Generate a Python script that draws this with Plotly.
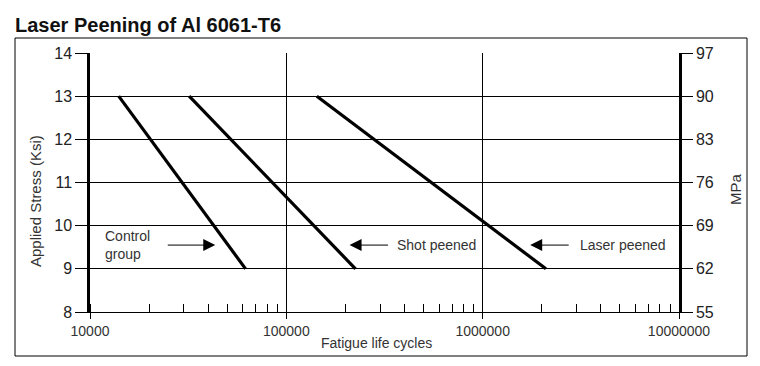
import plotly.graph_objects as go

# ---- data ----
stress_ksi = [13, 9]
control_cycles = [14000, 62000]
shot_cycles = [32000, 225000]
laser_cycles = [143000, 2100000]

y_ticks = [8, 9, 10, 11, 12, 13, 14]
mpa_labels = ["55", "62", "69", "76", "83", "90", "97"]
x_ticks = [1e4, 1e5, 1e6, 1e7]
x_labels = ["10000", "100000", "1000000", "10000000"]

FONT = "Liberation Sans, Arial, sans-serif"
TXT = "#333333"

# page body has an 8px margin; figure is sized to fit the 760x366 window
W, H = 752, 358
L, R, T, B = 82, 81, 45, 54
PW, PH = W - L - R, H - T - B


def px(xp):  # window x pixel -> paper x
    return (xp - 8 - L) / PW


def py(yp):  # window y pixel -> paper y
    return (H - B - (yp - 8)) / PH


fig = go.Figure()
for xs in (control_cycles, shot_cycles, laser_cycles):
    fig.add_trace(go.Scatter(x=xs, y=stress_ksi, mode="lines",
                             line=dict(color="black", width=3.2),
                             showlegend=False, hoverinfo="skip"))
# invisible trace to activate secondary axis
fig.add_trace(go.Scatter(x=[x_ticks[0]], y=[y_ticks[0]], yaxis="y2", mode="markers",
                         marker=dict(opacity=0), showlegend=False, hoverinfo="skip"))

fig.update_layout(
    width=W, height=H,
    margin=dict(l=L, r=R, t=T, b=B, autoexpand=False),
    paper_bgcolor="white", plot_bgcolor="white",
    font=dict(family=FONT, color=TXT),
    title=dict(text="<b>Laser Peening of Al 6061-T6</b>",
               font=dict(family="Liberation Sans Narrow, Arial Narrow, Liberation Sans, sans-serif",
                         size=20, color="#111111"),
               x=(15 - 8) / W, xanchor="left", xref="container",
               y=1 - (25 - 8) / H, yanchor="middle", yref="container",
               pad=dict(l=0, r=0, t=0, b=0)),
    xaxis=dict(type="log", range=[4, 7], tickvals=x_ticks, ticktext=x_labels,
               tickfont=dict(size=14, color=TXT), automargin=False,
               showgrid=True, gridcolor="black", gridwidth=1,
               ticks="outside", ticklen=6, tickcolor="black",
               showline=True, linecolor="black", linewidth=1,
               minor=dict(ticks="inside", ticklen=8, tickcolor="black", dtick="D1",
                          showgrid=False),
               zeroline=False),
    yaxis=dict(range=[8, 14], tickvals=y_ticks, ticktext=[str(v) for v in y_ticks],
               tickfont=dict(size=16, color="#222222"), automargin=False,
               showgrid=True, gridcolor="black", gridwidth=1,
               ticks="outside", ticklen=12, tickcolor="black", ticklabelstandoff=0,
               showline=True, linecolor="black", linewidth=2.5, mirror=False,
               zeroline=False),
    yaxis2=dict(range=[8, 14], overlaying="y", side="right",
                tickvals=y_ticks, ticktext=mpa_labels, automargin=False,
                tickfont=dict(size=16, color="#222222"), ticklabelstandoff=0,
                showgrid=False, ticks="outside", ticklen=11, tickcolor="black",
                showline=True, linecolor="black", linewidth=2.5, zeroline=False),
)

# outer frame
fig.add_shape(type="rect", xref="paper", yref="paper",
              x0=px(15), x1=px(747), y0=py(356), y1=py(38),
              line=dict(color="black", width=1), layer="below")

# axis titles
fig.add_annotation(text="Applied Stress (Ksi)", xref="paper", yref="paper",
                   x=px(35), y=py(201), xanchor="center", yanchor="middle",
                   textangle=-90, showarrow=False, font=dict(size=15, color=TXT))
fig.add_annotation(text="MPa", xref="paper", yref="paper",
                   x=px(735), y=py(189), xanchor="center", yanchor="middle",
                   textangle=-90, showarrow=False, font=dict(size=15, color=TXT))
fig.add_annotation(text="Fatigue life cycles", xref="paper", yref="paper",
                   x=px(376), y=py(343), xanchor="center", yanchor="middle",
                   showarrow=False, font=dict(size=14, color=TXT))

# labels with arrows
lab_y = 9.55
fig.add_annotation(text="Control<br>group", x=4.066, y=lab_y, xref="x", yref="y",
                   xanchor="left", yanchor="middle", align="left", showarrow=False,
                   font=dict(size=14, color=TXT))
fig.add_annotation(text="Shot peened", x=5.554, y=lab_y, xref="x", yref="y",
                   xanchor="left", yanchor="middle", showarrow=False,
                   font=dict(size=14, color=TXT))
fig.add_annotation(text="Laser peened", x=6.485, y=lab_y, xref="x", yref="y",
                   xanchor="left", yanchor="middle", showarrow=False,
                   font=dict(size=14, color=TXT))

for tip, dx in ((4.638, -49), (5.322, 40), (6.242, 40)):
    fig.add_annotation(text="", x=tip, y=lab_y, xref="x", yref="y",
                       ax=dx, ay=0, showarrow=True, arrowhead=2, arrowsize=2.4,
                       arrowwidth=1, arrowcolor="black")

fig.write_html("out.html")
